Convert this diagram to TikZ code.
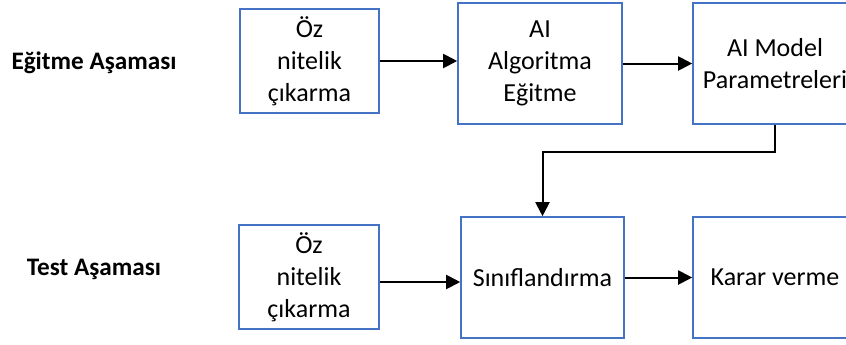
\documentclass[tikz,border=0pt]{standalone}
\usepackage{fontspec}
\setmainfont{Carlito}
\usetikzlibrary{arrows.meta}

\definecolor{boxblue}{HTML}{4472C4}
\tikzset{
  yazi/.style={font=\fontsize{13pt}{16pt}\selectfont},
  blok/.style={yazi,draw=boxblue,line width=0.8pt,align=center,inner sep=0pt},
  ok/.style={line width=1pt,-{Triangle[length=7pt,width=7pt]}},
  asama/.style={font=\fontsize{12.6pt}{16pt}\selectfont\bfseries}
}

\begin{document}
\begin{tikzpicture}[x=0.5pt,y=-0.5pt]
    \clip (0,0) rectangle (846,344);
    \useasboundingbox (0,0) rectangle (846,344);
    \node[asama] (egitme) at (94,63) {Eğitme Aşaması};
    \node[asama] (test) at (94,269) {Test Aşaması};
    \node[blok,minimum width=69.5pt,minimum height=52pt] (oz1) at (309.5,61) {Öz\\nitelik\\çıkarma};
    \node[blok,minimum width=82pt,minimum height=60.5pt] (algo) at (540,63.5) {AI\\Algoritma\\Eğitme};
    \node[blok,minimum width=82pt,minimum height=60.5pt] (model) at (775,63.5) {AI Model\\Parametreleri};
    \node[blok,minimum width=70pt,minimum height=52pt] (oz2) at (309,277) {Öz\\nitelik\\çıkarma};
    \node[blok,minimum width=81.5pt,minimum height=60.5pt] (sinif) at (542.5,277.5) {Sınıflandırma};
    \node[blok,minimum width=82pt,minimum height=60.5pt] (karar) at (775,277.5) {Karar verme};
    \coordinate (kirik) at (660,152);
    \draw[ok] (oz1) -- (algo.west |- oz1);
    \draw[ok] (algo) -- (model);
    \draw[ok] (model.south) |- (kirik) -| (sinif.north);
    \draw[ok] (oz2.east |- 0,282) -- (sinif.west |- 0,282);
    \draw[ok] (sinif) -- (karar);
\end{tikzpicture}
\end{document}
